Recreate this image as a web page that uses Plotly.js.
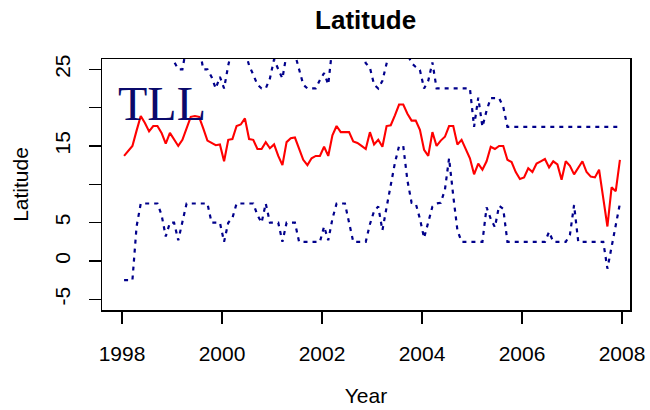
<!DOCTYPE html>
<html>
<head>
<meta charset="utf-8">
<script src="https://cdn.plot.ly/plotly-3.0.1.min.js"></script>
<style>html,body{margin:0;padding:0;background:#fff;}#chart{width:650px;height:410px;}</style>
</head>
<body>
<div id="chart"></div>
<script>
// Monthly series, Jan 1998 .. Dec 2007 (one row per year)
const years = [1998, 1999, 2000, 2001, 2002, 2003, 2004, 2005, 2006, 2007];

const meanLat = [
  13.7,14.4,15.0,17.0,18.9,18.0,16.9,17.6,17.6,16.7,15.3,16.7,
  15.8,15.0,15.8,17.3,18.8,18.9,18.8,17.3,15.7,15.4,15.1,15.2,
  13.0,15.8,15.9,17.6,17.8,18.6,15.9,15.8,14.6,14.6,15.5,14.7,
  15.2,13.7,12.5,15.5,16.0,16.1,14.5,13.2,12.5,13.4,13.7,13.7,
  14.9,13.7,16.4,17.6,16.8,16.8,16.8,15.6,15.4,15.0,14.6,16.8,
  15.2,15.8,14.9,17.6,17.7,19.0,20.4,20.4,19.2,18.3,18.3,17.1,
  14.5,13.7,16.8,15.0,15.7,16.2,17.6,17.6,15.2,15.8,14.6,13.4,
  11.3,12.7,11.9,13.0,14.9,14.6,15.0,15.0,13.2,12.9,11.6,10.7,
  10.9,12.1,11.6,12.7,13.0,13.3,12.2,13.0,12.6,10.6,13.0,12.4,
  11.3,12.2,13.0,11.6,11.0,10.9,11.9,8.2,4.5,9.6,9.1,13.2
];

const upperLat = [
  28,28,28,28,28,28,28,28,28,28,28,28,
  26.0,25,25,28,28,28,28,25,25,24.0,22.5,24.0,
  22.5,25.5,28,28,28,27.5,25.5,24.3,23.0,22.5,22.5,23.8,
  26.3,25.0,23.8,27,28,27,24.8,23.0,22.5,22.5,22.5,23.6,
  24.5,23.0,28,28,28,28,28,28,28,28,25.8,25.2,
  23.0,22.5,23.5,25.6,28,28,28,28,27,25.8,25.3,24.9,
  22.5,23.5,25.9,22.5,22.5,22.5,22.5,22.5,22.5,22.5,22.5,22.5,
  17.5,21.3,17.5,19.6,21.25,21.25,21.25,20.1,17.5,17.5,17.5,17.5,
  17.5,17.5,17.5,17.5,17.5,17.5,17.5,17.5,17.5,17.5,17.5,17.5,
  17.5,17.5,17.5,17.5,17.5,17.5,17.5,17.5,17.5,17.5,17.5,17.5
];

const lowerLat = [
  -2.5,-2.5,-2.5,4.5,7.5,7.5,7.5,7.5,7.5,6.0,3.2,5.0,
  5.0,2.7,5.0,7.5,7.5,7.5,7.5,7.5,7.5,5.0,5.0,5.0,
  2.5,5.0,5.6,7.5,7.5,7.5,7.5,7.5,6.0,5.0,7.5,5.0,
  5.0,5.0,2.5,5.0,5.0,5.0,2.5,2.5,2.5,2.5,2.5,2.5,
  4.5,2.7,5.5,7.5,7.5,7.5,5.0,2.5,2.5,2.5,2.5,4.8,
  6.5,7.1,4.0,7.0,10.0,12.8,15.0,15.0,10.5,7.6,7.5,5.5,
  3.0,5.0,7.1,7.5,7.6,9.3,13.4,8.5,4.0,2.5,2.5,2.5,
  2.5,2.5,2.5,7.0,5.5,4.4,7.2,6.8,2.5,2.5,2.5,2.5,
  2.5,2.5,2.5,2.5,2.5,2.5,3.8,2.5,2.5,2.5,2.5,3.4,
  7.3,2.5,2.5,2.5,2.5,2.5,2.5,2.5,-1.0,2.0,4.5,7.5
];

const xTicks = [1998, 2000, 2002, 2004, 2006, 2008];
const yTicks = [-5, 0, 5, 10, 15, 20, 25];
const yTickText = ['-5', '0', '5', '', '15', '', '25'];

// decimal-year position of each monthly value (mid-month)
const t = [];
years.forEach(function (yr) {
  for (let mo = 0; mo < 12; mo++) t.push(yr + (mo + 0.5) / 12);
});

const font = 'Liberation Sans, Arial, Helvetica, sans-serif';
const navy = '#00008B';

const traces = [
  {x: t, y: upperLat, type: 'scatter', mode: 'lines',
   line: {color: navy, width: 2.2, dash: '4px,5px'}, hoverinfo: 'skip'},
  {x: t, y: lowerLat, type: 'scatter', mode: 'lines',
   line: {color: navy, width: 2.2, dash: '4px,5px'}, hoverinfo: 'skip'},
  {x: t, y: meanLat, type: 'scatter', mode: 'lines',
   line: {color: '#FF0000', width: 2.1}, hoverinfo: 'skip'}
];

const layout = {
  width: 650, height: 410,
  margin: {l: 102, r: 20, t: 59, b: 100, pad: 0},
  paper_bgcolor: '#fff', plot_bgcolor: '#fff',
  showlegend: false,
  font: {family: font, color: '#000', size: 21},
  title: {text: '<b>Latitude</b>', font: {family: font, size: 26, color: '#000'},
          x: 0.5625, xanchor: 'center', y: 0.951, yanchor: 'middle', yref: 'container'},
  xaxis: {
    range: [1997.6, 2008.16], tickvals: xTicks, ticktext: xTicks.map(String),
    ticks: 'outside', ticklen: 12, tickwidth: 1.3, tickcolor: '#000',
    showline: true, mirror: true, linecolor: '#000', linewidth: 1.5,
    showgrid: false, zeroline: false, ticklabelstandoff: 12,
    tickfont: {family: font, size: 21, color: '#000'},
    title: {text: 'Year', font: {family: font, size: 21, color: '#000'}, standoff: 24}
  },
  yaxis: {
    range: [-6.39, 26.34], tickvals: yTicks, ticktext: yTickText, tickangle: -90,
    ticks: 'outside', ticklen: 12, tickwidth: 1.3, tickcolor: '#000',
    showline: true, mirror: true, linecolor: '#000', linewidth: 1.5,
    showgrid: false, zeroline: false, ticklabelstandoff: 10,
    tickfont: {family: font, size: 21, color: '#000'},
    title: {text: 'Latitude', font: {family: font, size: 21, color: '#000'}, standoff: 16}
  },
  annotations: [{
    xref: 'x', yref: 'y', x: 1997.88, y: 20.6, xanchor: 'left', yanchor: 'middle',
    text: 'TLL', showarrow: false,
    font: {family: 'Liberation Serif, Times New Roman, serif', size: 48, color: '#0A0A6B'}
  }]
};

Plotly.newPlot('chart', traces, layout, {staticPlot: true, displayModeBar: false});
</script>
</body>
</html>
